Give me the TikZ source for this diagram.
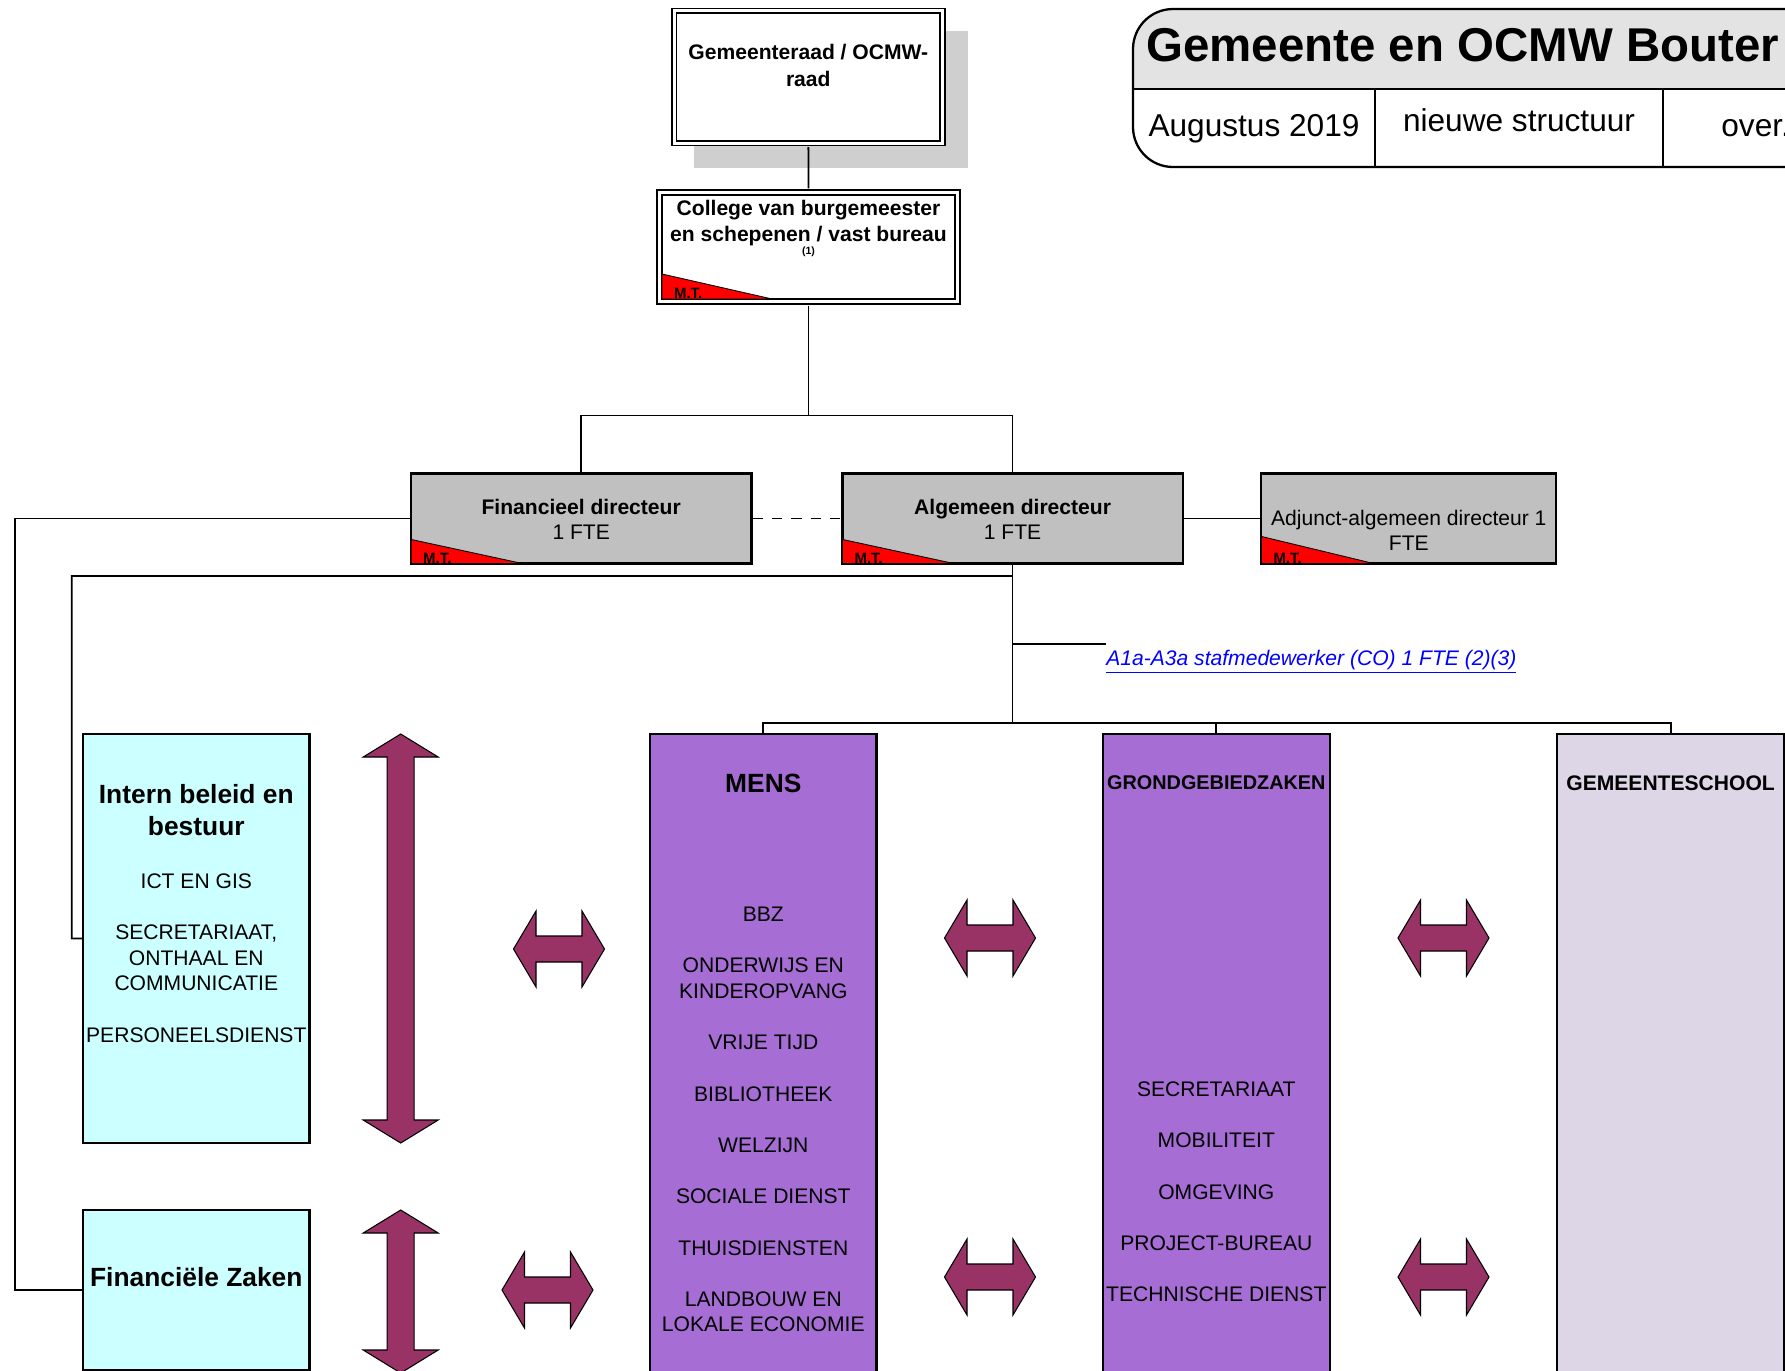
\documentclass[tikz,border=0pt]{standalone}
\usepackage{fontspec}
\setmainfont{Liberation Sans}
\usetikzlibrary{fit}

\definecolor{plum}{HTML}{993366}
\definecolor{paleblue}{HTML}{CCFFFF}
\definecolor{mauve}{HTML}{A66DD4}
\definecolor{lilac}{HTML}{DCD6E6}
\definecolor{silver}{HTML}{C0C0C0}
\definecolor{shadowgray}{HTML}{CFCFCF}
\definecolor{titlegray}{HTML}{E3E3E3}

\begin{document}
\begin{tikzpicture}[x=0.02cm, y=-0.02cm,
    box/.style={draw=black, line width=1.3pt, inner sep=0pt},
    dbox/.style={draw=black, fill=white, double, line width=0.9pt, double distance=1.9pt, inner sep=0pt},
    txt/.style={inner sep=0pt, align=center, font=\fontsize{12}{14.6}\selectfont},
    btxt/.style={inner sep=0pt, align=center, font=\fontsize{12}{14.3}\selectfont\bfseries},
    coltitle/.style={inner sep=0pt, align=center, font=\fontsize{15}{18.2}\selectfont\bfseries},
    mt/.style={inner sep=0pt, font=\fontsize{8.5}{9}\selectfont\bfseries},
    mtflag/.style={fill=red, draw=black, line width=0.5pt},
    link/.style={line width=1pt},
    fatarrow/.style={fill=plum, draw=black, line width=0.6pt}]

\useasboundingbox (0,0) rectangle (1785,1370);
\clip (0,0) rectangle (1785,1370);

% Title block
\begin{scope}
\clip (1100,0) rectangle (1800,89);
\fill[titlegray, rounded corners=0.8cm] (1133,9) rectangle (1900,167);
\end{scope}
\draw[line width=1.3pt, rounded corners=0.8cm] (1133,9) rectangle (1900,167);
\draw[line width=1.3pt] (1133,89) -- (1785,89);
\draw[line width=1.3pt] (1375,89) -- (1375,167);
\draw[line width=1.3pt] (1663,89) -- (1663,167);
\node[anchor=base west, inner sep=0pt, font=\fontsize{27}{30}\selectfont\bfseries] (title) at (1146,61) {Gemeente en OCMW Bouter};
\node[anchor=base, inner sep=0pt, font=\fontsize{18}{20}\selectfont] (date) at (1254,136) {Augustus 2019};
\node[anchor=base, inner sep=0pt, font=\fontsize{18}{20}\selectfont] (version) at (1519,131) {nieuwe structuur};
\node[anchor=base west, inner sep=0pt, font=\fontsize{18}{20}\selectfont] (note) at (1721,136) {over.};

% Gemeenteraad
\fill[shadowgray] (694,31) rectangle (968,168);
\node[dbox, fit={(674.2,10.8) (942.5,143.2)}] (raad) {};
\node[btxt, font=\fontsize{12}{14.9}\selectfont\bfseries] (raadtxt) at (808.3,65.5) {Gemeenteraad / OCMW-\\raad};

% College
\node[dbox, fit={(659.5,192.5) (957.5,301.5)}] (college) {};
\node[btxt] (collegetxt) at (808.5,223) {College van burgemeester\\en schepenen / vast bureau};
\node[inner sep=0pt, font=\fontsize{6}{7}\selectfont\bfseries] (collegeref) at (808.5,251.6) {(1)};
\filldraw[mtflag] ([shift={(3.3,-3.3)}]college.south west) -- ++(0,-25) -- ++(110,25) -- cycle;
\node[mt, anchor=base west] (mtcollege) at ([shift={(15,-3.5)}]college.south west) {M.T.};

% Financieel directeur
\node[box, fill=silver, fit={(411,473.6) (751.4,563.5)}] (fin) {};
\filldraw[mtflag] ([shift={(1.2,-1.2)}]fin.south west) -- ++(0,-24) -- ++(111,24) -- cycle;
\node[mt, anchor=base west] (mtfin) at ([shift={(13,-1.5)}]fin.south west) {M.T.};
\node[txt, font=\fontsize{12}{14.2}\selectfont] (fintxt) at (581.2,519.1) {\textbf{Financieel directeur}\\1 FTE};

% Algemeen directeur
\node[box, fill=silver, fit={(842.4,473.6) (1182.8,563.5)}] (alg) {};
\filldraw[mtflag] ([shift={(1.2,-1.2)}]alg.south west) -- ++(0,-24) -- ++(111,24) -- cycle;
\node[mt, anchor=base west] (mtalg) at ([shift={(13,-1.5)}]alg.south west) {M.T.};
\node[txt, font=\fontsize{12}{14.2}\selectfont] (algtxt) at (1012.6,519.1) {\textbf{Algemeen directeur}\\1 FTE};

% Adjunct-algemeen directeur
\node[box, fill=silver, fit={(1261.3,473.6) (1556.2,563.5)}] (adj) {};
\filldraw[mtflag] ([shift={(1.2,-1.2)}]adj.south west) -- ++(0,-27) -- ++(112,27) -- cycle;
\node[mt, anchor=base west] (mtadj) at ([shift={(13,-1.5)}]adj.south west) {M.T.};
\node[txt, font=\fontsize{12}{14.2}\selectfont] (adjtxt) at (1408.8,530.5) {Adjunct-algemeen directeur 1\\FTE};

% Intern beleid en bestuur
\node[box, fill=paleblue, fit={(83,734) (309.6,1143)}] (intern) {};
\node[coltitle] (interntitle) at (196.3,810.5) {Intern beleid en\\bestuur};
\node[txt] (internitems) at (196.3,958) {ICT EN GIS\\[14.6pt]SECRETARIAAT,\\ONTHAAL EN\\COMMUNICATIE\\[14.6pt]PERSONEELSDIENST};

% Financiele Zaken
\node[box, fill=paleblue, fit={(83,1210) (309.6,1370)}] (finz) {};
\node[coltitle] (finztitle) at (196.3,1277) {Financiële Zaken};

% Mens
\node[box, fill=mauve, fit={(650,734) (876.6,1372)}] (mens) {};
\node[coltitle] (menstitle) at (763.3,783) {MENS};
\node[txt] (mensitems) at (763.3,1119.6) {BBZ\\[14.6pt]ONDERWIJS EN\\KINDEROPVANG\\[14.6pt]VRIJE TIJD\\[14.6pt]BIBLIOTHEEK\\[14.6pt]WELZIJN\\[14.6pt]SOCIALE DIENST\\[14.6pt]THUISDIENSTEN\\[14.6pt]LANDBOUW EN\\LOKALE ECONOMIE};

% Grondgebiedzaken
\node[box, fill=mauve, fit={(1103,734) (1329.7,1372)}] (grond) {};
\node[coltitle, font=\fontsize{11.3}{13}\selectfont\bfseries] (grondtitle) at (1216.3,783) {GRONDGEBIEDZAKEN};
\node[txt] (ronditems) at (1216.3,1191.9) {SECRETARIAAT\\[14.6pt]MOBILITEIT\\[14.6pt]OMGEVING\\[14.6pt]PROJECT-BUREAU\\[14.6pt]TECHNISCHE DIENST};

% Gemeenteschool
\node[box, fill=lilac, fit={(1557.3,734) (1784,1372)}] (school) {};
\node[coltitle, font=\fontsize{12}{14}\selectfont\bfseries] (schooltitle) at (1670.6,783) {GEMEENTESCHOOL};

% Lines
\coordinate (topsplit) at (808.5,415.5);
\coordinate (ibtap) at (1012.6,576);
\coordinate (stafftap) at (1012.6,644);
\coordinate (botsplit) at (1012.6,723);
\draw[link, shorten <=1.85pt, shorten >=1.85pt] (raad.south) -- (college.north);
\draw[link, shorten <=1.85pt] (college.south) -- (topsplit);
\draw[link] (fin.north) |- (topsplit) -| (alg.north);
\draw[link, dash pattern=on 6pt off 5pt] (fin.east) -- (alg.west);
\draw[link] (alg.east) -- (adj.west);
\draw[link] (fin.west) -| (14.8,1290) -- (finz.west);
\draw[link] (alg.south) -- (botsplit);
\draw[link] (ibtap) -| (71.7,938.5) -- (intern.west);
\draw[link] (mens.north) |- (botsplit) -| (school.north);
\draw[link] (grond.north) -- (grond.north |- botsplit);

% Staff
\node[anchor=west, inner sep=0pt, text=blue, font=\fontsize{12}{14}\selectfont\itshape] (staff) at (1106,662) {\underline{A1a-A3a stafmedewerker (CO) 1 FTE (2)(3)}};
\draw[link] (stafftap) -- (stafftap -| staff.west);

% Double arrows
\filldraw[fatarrow] (400.7,734) -- (438.2,757) -- (414.2,757) -- (414.2,1120) -- (438.2,1120) -- (400.7,1143) -- (363.2,1120) -- (387.2,1120) -- (387.2,757) -- (363.2,757) -- cycle;
\filldraw[fatarrow] (400.7,1210) -- (438.2,1233) -- (414.2,1233) -- (414.2,1350) -- (438.2,1350) -- (400.7,1373) -- (363.2,1350) -- (387.2,1350) -- (387.2,1233) -- (363.2,1233) -- cycle;
\foreach \cx/\cy in {559/949, 547.5/1290, 990/938, 990/1277, 1443.5/938, 1443.5/1277}
  \filldraw[fatarrow, shift={(\cx,\cy)}] (-45.5,0) -- (-23,-38) -- (-23,-13) -- (23,-13) -- (23,-38) -- (45.5,0) -- (23,38) -- (23,13) -- (-23,13) -- (-23,38) -- cycle;

\end{tikzpicture}
\end{document}
